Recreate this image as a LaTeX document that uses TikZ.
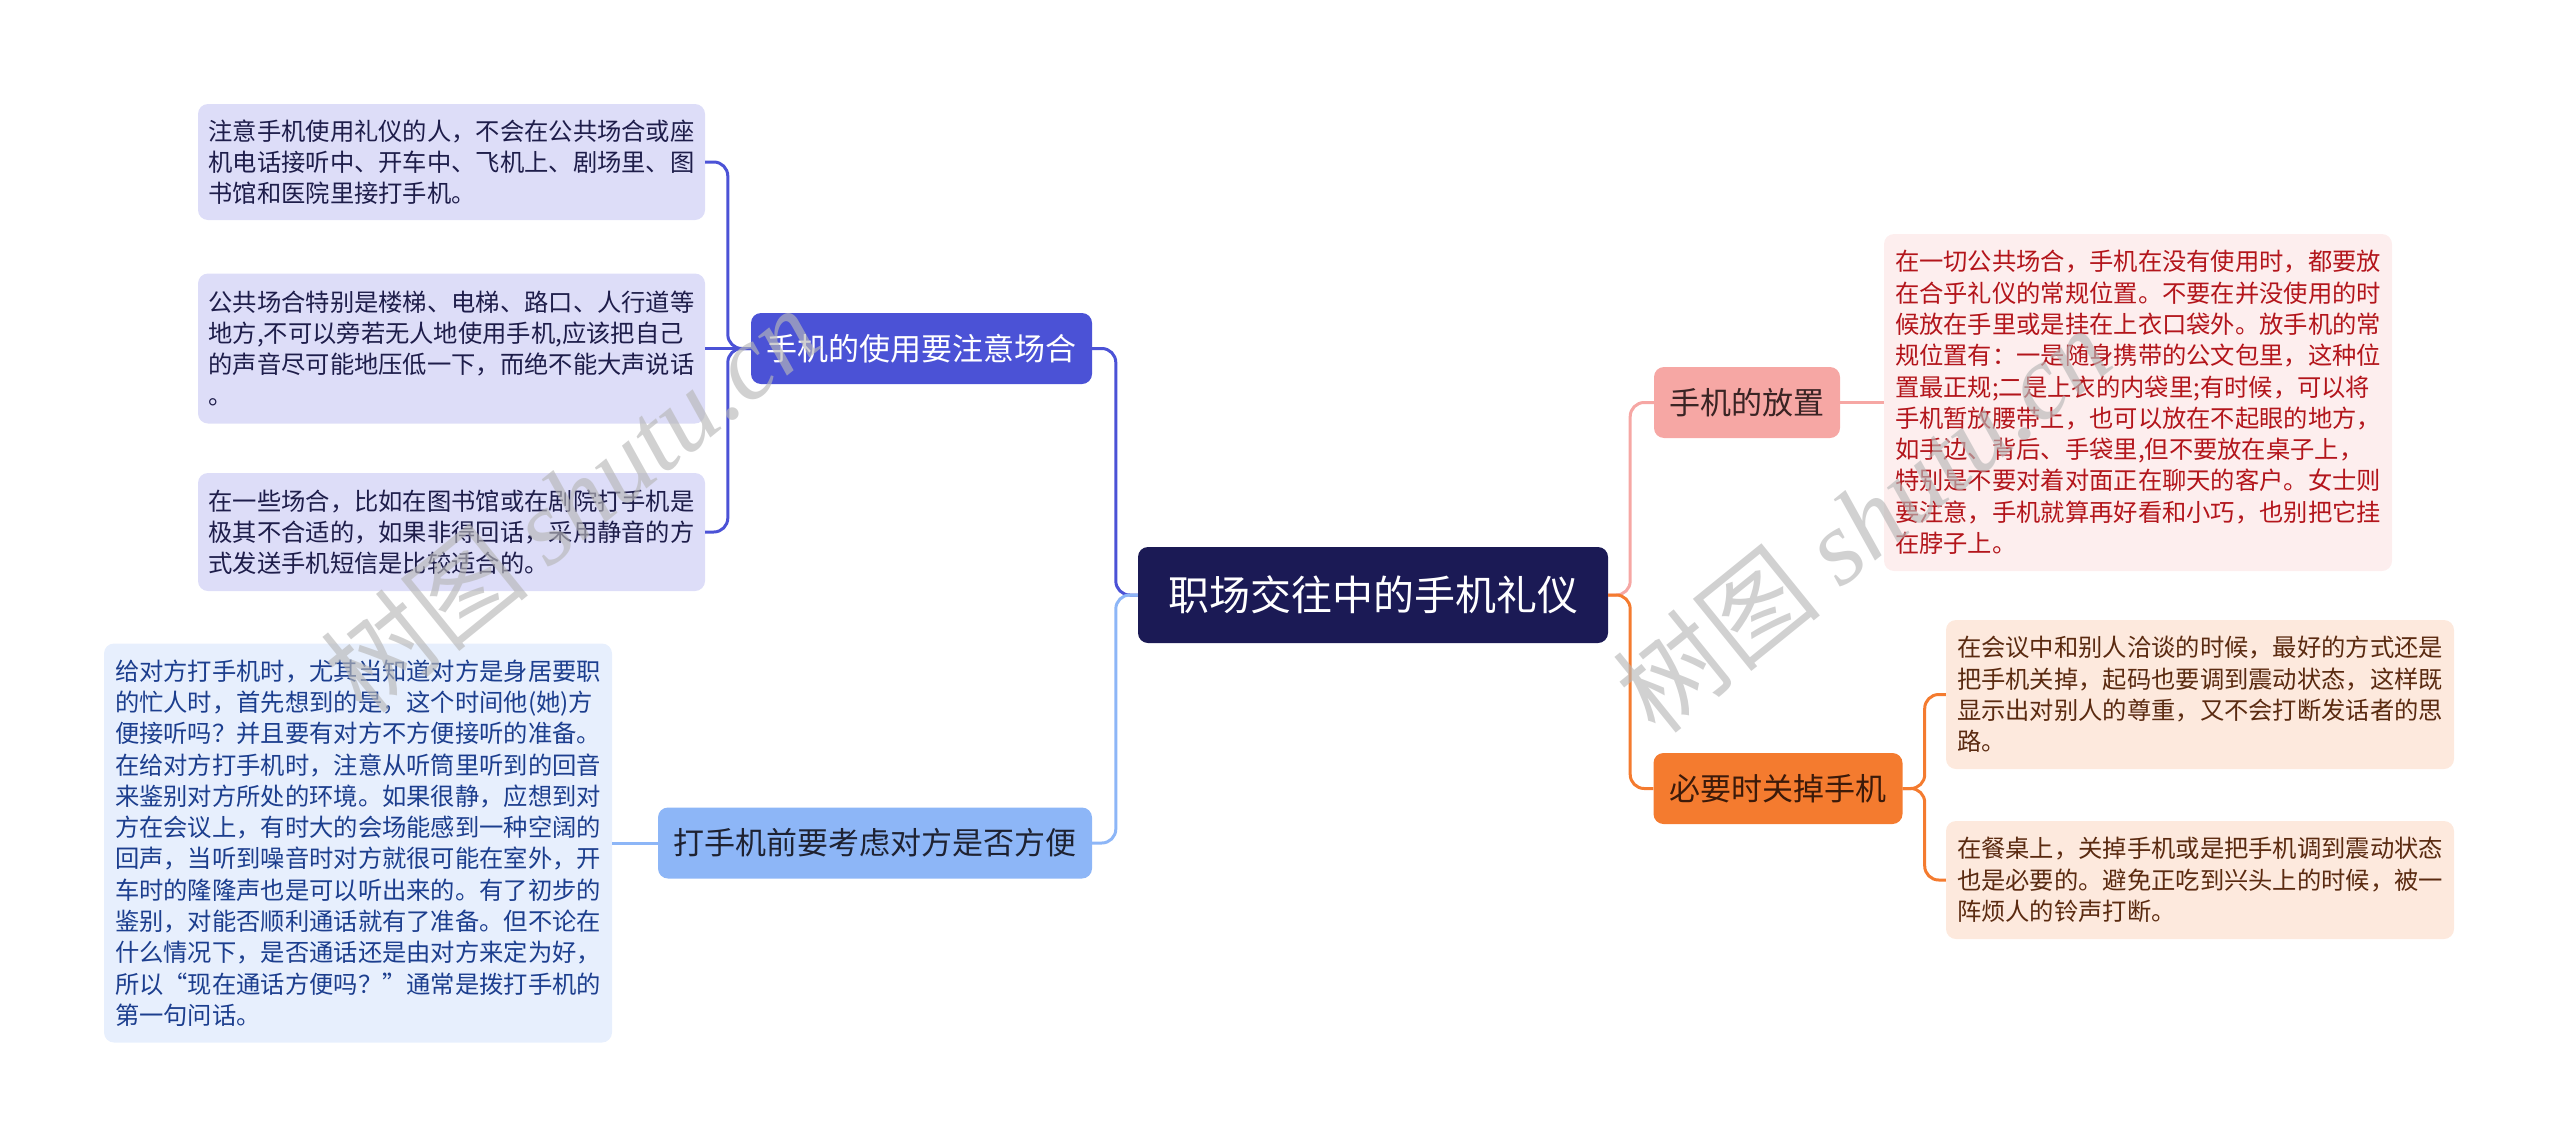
\documentclass[tikz,border=0pt]{standalone}
\usepackage{fontspec}
\setmainfont{Noto Sans CJK SC}
\newfontfamily\wmserif{Liberation Serif}
\definecolor{rootc}{HTML}{1B1A55}
\definecolor{bAc}{HTML}{4B52D6}
\definecolor{bBc}{HTML}{8DB6F7}
\definecolor{bCc}{HTML}{F6A7A4}
\definecolor{bDc}{HTML}{F47B2F}
\definecolor{lAc}{HTML}{DDDDF8}
\definecolor{lBc}{HTML}{E7EFFD}
\definecolor{lCc}{HTML}{FDEEEE}
\definecolor{lDc}{HTML}{FDE9DD}
\definecolor{lAt}{HTML}{1E1D4A}
\definecolor{lBt}{HTML}{1C3E8E}
\definecolor{lCt}{HTML}{B3151B}
\definecolor{lDt}{HTML}{5A2A10}
\definecolor{bBt}{HTML}{1E2232}
\definecolor{bCt}{HTML}{3A2424}
\definecolor{bDt}{HTML}{3B1A0A}
\definecolor{wmc}{HTML}{B8B8B8}
\begin{document}
\begin{tikzpicture}[x=1pt,y=-1pt,
  box/.style={rounded corners=10pt, inner xsep=0pt, inner ysep=0pt, anchor=center},
  rootbox/.style={box, fill=rootc, text=white, font=\fontsize{41}{50}\selectfont},
  brbox/.style={box, font=\fontsize{31}{38}\selectfont},
  leafbox/.style={box, align=left, font=\fontsize{24.3}{31.3}\selectfont},
  conn/.style={line width=3pt, rounded corners=14pt},
  wmark/.style={text=wmc, opacity=0.65, rotate=39, font=\fontsize{106}{116}\selectfont, inner sep=0pt}
]
\useasboundingbox (0,0) rectangle (2560,1146);

% root
\node[rootbox, minimum width=470, minimum height=96] (root) at (1373,595) {职场交往中的手机礼仪};

% branches
\node[brbox, fill=bAc, text=white, minimum width=341, minimum height=71] (b1) at (921.5,348.5) {手机的使用要注意场合};
\node[brbox, fill=bBc, text=bBt, minimum width=434, minimum height=71] (b2) at (875,843) {打手机前要考虑对方是否方便};
\node[brbox, fill=bCc, text=bCt, minimum width=186, minimum height=71] (b3) at (1747,402.5) {手机的放置};
\node[brbox, fill=bDc, text=bDt, minimum width=249, minimum height=71] (b4) at (1778,788.5) {必要时关掉手机};

% leaves of b1
\node[leafbox, fill=lAc, text=lAt, minimum width=507, minimum height=116, text width=486pt] (l1) at (451.5,162)
 {注意手机使用礼仪的人，不会在公共场合或座\\机电话接听中、开车中、飞机上、剧场里、图\\书馆和医院里接打手机。};
\node[leafbox, fill=lAc, text=lAt, minimum width=507, minimum height=150, text width=486pt] (l2) at (451.5,348.5)
 {公共场合特别是楼梯、电梯、路口、人行道等\\地方,不可以旁若无人地使用手机,应该把自己\\的声音尽可能地压低一下，而绝不能大声说话\\。};
\node[leafbox, fill=lAc, text=lAt, minimum width=507, minimum height=118, text width=486pt] (l3) at (451.5,532)
 {在一些场合，比如在图书馆或在剧院打手机是\\极其不合适的，如果非得回话，采用静音的方\\式发送手机短信是比较适合的。};

% leaf of b2
\node[leafbox, fill=lBc, text=lBt, minimum width=508, minimum height=399, text width=486pt] (l4) at (358,843)
 {给对方打手机时，尤其当知道对方是身居要职\\的忙人时，首先想到的是，这个时间他(她)方\\便接听吗？并且要有对方不方便接听的准备。\\在给对方打手机时，注意从听筒里听到的回音\\来鉴别对方所处的环境。如果很静，应想到对\\方在会议上，有时大的会场能感到一种空阔的\\回声，当听到噪音时对方就很可能在室外，开\\车时的隆隆声也是可以听出来的。有了初步的\\鉴别，对能否顺利通话就有了准备。但不论在\\什么情况下，是否通话还是由对方来定为好，\\所以“现在通话方便吗？”通常是拨打手机的\\第一句问话。};

% leaf of b3
\node[leafbox, fill=lCc, text=lCt, minimum width=508, minimum height=337, text width=486pt] (r1) at (2138,402.5)
 {在一切公共场合，手机在没有使用时，都要放\\在合乎礼仪的常规位置。不要在并没使用的时\\候放在手里或是挂在上衣口袋外。放手机的常\\规位置有：一是随身携带的公文包里，这种位\\置最正规;二是上衣的内袋里;有时候，可以将\\手机暂放腰带上，也可以放在不起眼的地方，\\如手边、背后、手袋里,但不要放在桌子上，\\特别是不要对着对面正在聊天的客户。女士则\\要注意，手机就算再好看和小巧，也别把它挂\\在脖子上。};

% leaves of b4
\node[leafbox, fill=lDc, text=lDt, minimum width=508, minimum height=149, text width=486pt] (r2) at (2200,694.5)
 {在会议中和别人洽谈的时候，最好的方式还是\\把手机关掉，起码也要调到震动状态，这样既\\显示出对别人的尊重，又不会打断发话者的思\\路。};
\node[leafbox, fill=lDc, text=lDt, minimum width=508, minimum height=118, text width=486pt] (r3) at (2200,880)
 {在餐桌上，关掉手机或是把手机调到震动状态\\也是必要的。避免正吃到兴头上的时候，被一\\阵烦人的铃声打断。};

% connectors root -> branches
\draw[conn, draw=bAc] (root.west) -- ++(-22,0) |- (b1.east);
\draw[conn, draw=bBc] (root.west) -- ++(-22,0) |- (b2.east);
\draw[conn, draw=bCc] (root.east) -- ++(22,0) |- (b3.west);
\draw[conn, draw=bDc] (root.east) -- ++(22,0) |- (b4.west);

% b1 -> leaves
\draw[conn, draw=bAc] (b1.west) -- ++(-23,0) |- (l1.east);
\draw[conn, draw=bAc] (b1.west) -- (l2.east);
\draw[conn, draw=bAc] (b1.west) -- ++(-23,0) |- (l3.east);
% b2 -> leaf
\draw[conn, draw=bBc] (b2.west) -- (l4.east);
% b3 -> leaf
\draw[conn, draw=bCc] (b3.east) -- (r1.west);
% b4 -> leaves
\draw[conn, draw=bDc] (b4.east) -- ++(22,0) |- (r2.west);
\draw[conn, draw=bDc] (b4.east) -- ++(22,0) |- (r3.west);

% watermarks
\node[wmark] (wm1) at (570,500) {树图 {\wmserif\itshape shutu.cn}};
\node[wmark] (wm2) at (1862,520) {树图 {\wmserif\itshape shutu.cn}};
\end{tikzpicture}
\end{document}
